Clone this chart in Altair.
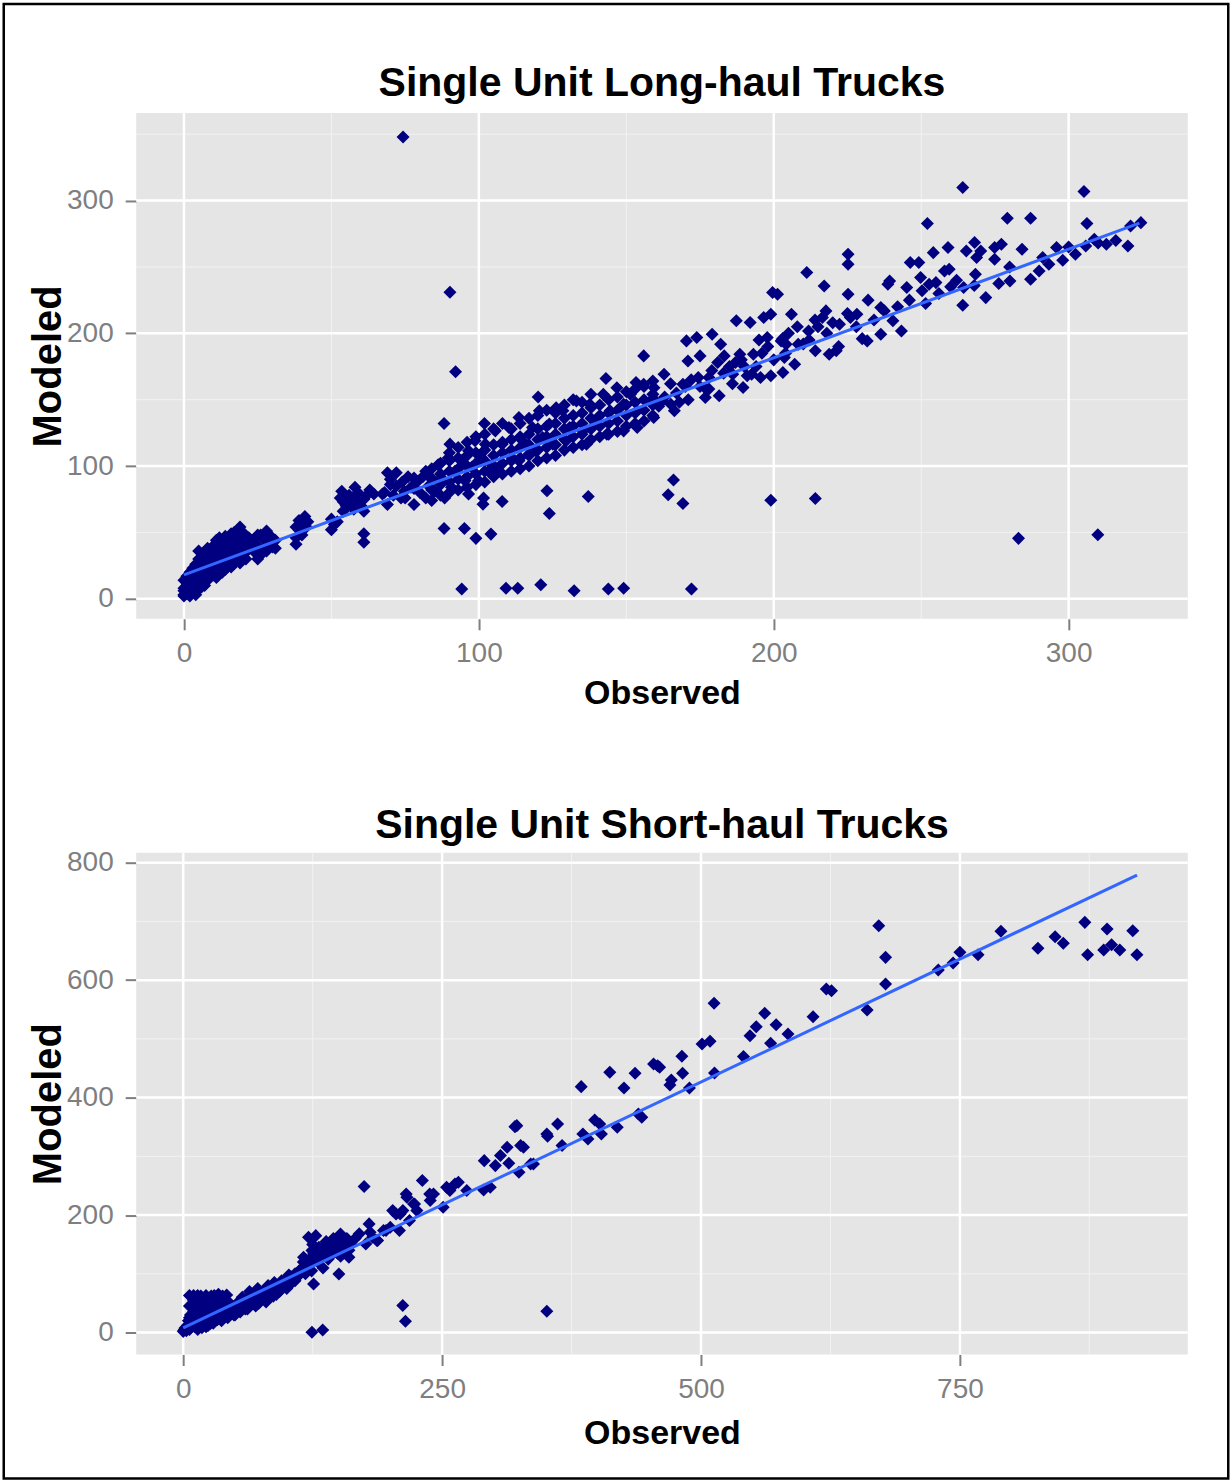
import altair as alt
import pandas as pd

# ---------------- data ----------------
# Top panel: Single Unit Long-haul Trucks (Observed, Modeled)
long_obs = [
    0, 0, 1, 1, 2, 2, 3, 3, 4, 4, 5, 5, 6, 6, 5, 8,
    7, 8, 9, 10, 10, 11, 12, 13, 13, 14, 15, 16, 16, 17, 18, 19, 19, 20, 20, 22, 21, 19, 16,
    24, 24, 25, 26, 27, 28, 29, 30, 25, 28, 31,
    38, 38, 39, 41, 41.5, 50, 50, 51,
    53.5, 54, 54, 58, 58, 61, 61, 57.6, 64.4, 61, 61,
    69, 72, 70, 69, 73.6, 78, 78, 78, 82, 82, 74.7, 67.3,
    74.3, 90.2, 92.1, 88.2, 101.9, 90.2, 120.1, 155.9, 143.1, 153.3,
    88.2, 95.1, 99, 104.1, 123.1, 123.9, 137.1, 101.4, 107.9,
    94.2, 109.2, 113.2, 121, 132.3, 143.9, 149.1,
    86.2, 87.3, 89.6, 90.7, 91.9, 94.2, 95.3, 96.5, 97.6, 98.7, 99.9, 101, 102.2, 103.3,
    88.4, 96.5, 101.6, 104.5, 83.9, 85,
    105.6, 107.9, 110.2, 111.3, 113.6, 114.8, 117, 118.2, 120.5, 121.6, 123.9, 125.1, 126.2,
    106.7, 113.6, 119.3,
    128.5, 130.8, 133.1, 135.3, 137.6, 139.9, 142.2, 144.5, 146.8, 149.1, 151.4, 153.7, 155.9,
    158.2, 129.6, 136.5, 143.4, 149.1, 153.7, 159.4,
    166, 164.2, 169.2, 199, 214.1, 283, 309.9, 172.1,
    264.1, 305.2, 252.1, 279.2, 287.1, 306.2, 324.5, 321, 320.1, 312.8, 308.7, 305.8, 302.3,
    295.9, 291.2, 293.3, 284.2, 287.1, 280.1, 276.3, 277.2, 274.9, 274.9, 268.1, 270.2, 268.8,
    268.4, 265.3, 259.1, 254.1, 271.9, 264.1, 264.4, 259.5, 257.9, 255, 251.5, 249.2, 246.3,
    245.1, 249.8, 250.3, 252.7, 238.7, 239.3, 237.5, 236.3, 240.4, 243.3, 236.3, 231.7, 228.2,
    225.2, 225.2, 225.2, 222.3, 218.8, 221.2, 217.1, 211.2, 216.5, 217.7, 214.1, 211.8, 207.1,
    208.3, 206, 204.2, 201.3, 199.6, 199, 196.6, 197.8, 202.5, 203.6, 203.1, 199, 195.5,
    192, 187.3, 193.1, 192.5, 189.6, 188.5, 186.1, 183.2, 182, 179.1, 173.9, 170.4, 170.9,
    175, 174.4, 178, 181.5, 176.8, 169.2, 162.8, 166.3, 159.3, 162.2, 165.1, 159.9,
    170, 185, 190, 178, 195, 205, 215, 225, 232, 242, 260, 280, 298, 310,
    # dense band, x 84-159
    84, 84, 84, 84, 87, 87, 87, 87, 90, 90, 90, 90, 90, 93, 93, 93, 93, 93,
    96, 96, 96, 96, 96, 99, 99, 99, 99, 99, 102, 102, 102, 102, 102,
    105, 105, 105, 105, 105, 108, 108, 108, 108, 108, 111, 111, 111, 111, 111,
    114, 114, 114, 114, 114, 117, 117, 117, 117, 117, 120, 120, 120, 120, 120,
    123, 123, 123, 123, 123, 126, 126, 126, 126, 126, 129, 129, 129, 129, 129,
    132, 132, 132, 132, 132, 135, 135, 135, 135, 135, 138, 138, 138, 138, 138,
    141, 141, 141, 141, 144, 144, 144, 144, 147, 147, 147, 147, 150, 150, 150, 150,
    153, 153, 153, 153, 156, 156, 156, 156, 159, 159, 159, 159,
    # lower-left blob, x 0-22
    0, 0, 0, 1, 1, 1, 2, 2, 2, 3, 3, 3, 4, 4, 4, 4, 5, 5, 5, 6, 6, 6, 7, 7, 7, 7,
    8, 8, 8, 9, 9, 9, 10, 10, 10, 11, 11, 11, 12, 12, 12, 13, 13, 14, 14, 14, 15, 15,
    16, 16, 17, 17, 17, 18, 18, 18, 19, 19, 20, 20, 20, 21, 21, 22, 22,
    # middle clusters
    24, 25, 26, 27, 28, 29, 30, 31, 38, 39, 40, 40, 42,
    52, 53, 55, 56, 57, 59, 60, 62, 63,
    68, 70, 71, 72, 74, 75, 76, 77, 79, 80, 81, 83,
    # upper band, x 160-316
    163, 167, 171, 175, 179, 183, 187, 191, 196, 200, 204, 208, 212, 218, 222, 228,
    234, 246, 256, 262, 268, 290, 300, 316,
    161, 165, 168, 172, 177, 181, 186, 189, 194, 198, 203, 210, 214, 220, 226, 230,
]
long_mod = [
    3, 6, 8, 12, 5, 15, 10, 18, 7, 20, 13, 25, 9, 30, 36, 34,
    16, 22, 28, 18, 35, 25, 30, 20, 40, 28, 35, 24, 44, 32, 38, 27, 48, 36, 42, 46, 30, 54, 49,
    35, 45, 40, 48, 37, 44, 42, 39, 30, 51, 44,
    41, 54, 59, 62, 54, 60, 52, 56,
    81, 73, 66, 84, 75, 75, 66, 67.5, 79, 49, 42.5,
    95, 95, 86, 71, 76, 91, 83, 71, 96, 76, 81, 79,
    348, 231, 171, 132, 132, 116.5, 152, 183, 166, 163,
    53, 53, 45.5, 48.7, 81.4, 64.3, 77.1, 71.3, 73.3,
    7.3, 8, 8, 10.6, 6.1, 7.3, 8,
    101, 91, 106, 84, 96, 104, 89, 111.5, 99, 119, 89, 106, 116.5, 96,
    76, 79, 76, 101, 91, 81,
    126.5, 116.5, 129, 106, 136.6, 119, 109, 129, 141.6, 121.5, 131.6, 116.5, 144,
    96, 104, 111.5,
    141.6, 129, 149, 126.5, 146.6, 134, 154, 141.6, 159, 146.6, 154, 141.6, 161.7,
    149, 119, 116.5, 124, 126.5, 129, 159,
    89.4, 78.3, 71.8, 74.3, 75.6, 45.5, 48.2, 7.3,
    309.8, 306.8, 282.7, 286.7, 286.7, 282.7, 283.4, 280.9, 265.8, 267.1, 270.9, 265.8, 259.6,
    264.6, 257.1, 252, 263.3, 240.7, 239.5, 237.5, 267.1, 264.6, 255.8, 268.4, 262.1, 257.1,
    244.5, 262.1, 264.6, 260.8, 226.9, 221.2, 234.5, 248.3, 247, 238.2, 222.4, 253.3, 253.3,
    234.5, 242, 232, 237, 237, 239.5, 216.9, 219.4, 209.4, 201.8, 199.3, 194.3, 214.4,
    259.6, 252, 229.5, 206.9, 184.3, 186.8, 235.7, 245.8, 211.9, 216.9, 186.8, 201.8, 176.7,
    191.8, 214.4, 191.8, 229.5, 230.7, 214.4, 211.9, 196.8, 194.3, 181.8, 170.5, 168, 166.7,
    208.1, 209.4, 184.3, 169.2, 159.2, 184.3, 169.2, 183, 191.8, 199.3, 196.8, 194.3, 179.2,
    183, 166.7, 166.7, 152.9, 151.6, 161.7, 169.2, 141.6, 136.6, 149.1, 146.6, 149.1,
    160, 175, 175, 158, 195, 200, 205, 215, 225, 220, 235, 250, 255, 268,
    # dense band, x 84-159
    74, 82, 90, 98, 78, 86, 94, 102, 80, 88, 96, 104, 110, 82, 90, 98, 106, 114,
    84, 92, 100, 108, 118, 86, 94, 102, 110, 122, 88, 96, 104, 112, 124,
    92, 100, 108, 116, 128, 94, 102, 110, 118, 132, 96, 104, 112, 120, 128,
    98, 106, 114, 122, 132, 100, 108, 116, 124, 136, 104, 112, 120, 128, 138,
    106, 114, 122, 130, 142, 108, 116, 124, 132, 140, 112, 120, 128, 136, 146,
    114, 122, 130, 138, 150, 116, 124, 132, 140, 148, 120, 128, 136, 144, 154,
    122, 130, 138, 146, 124, 132, 140, 150, 126, 134, 142, 152, 130, 138, 146, 156,
    132, 140, 148, 158, 134, 142, 150, 160, 138, 146, 154, 164,
    # lower-left blob, x 0-22
    2, 8, 14, 4, 10, 17, 2, 9, 20, 5, 13, 23, 3, 11, 16, 26, 7, 18, 30, 12, 22, 27, 10, 20, 26, 33,
    14, 28, 38, 18, 24, 32, 22, 30, 40, 16, 34, 44, 24, 36, 46, 28, 33, 22, 38, 47, 26, 42,
    30, 38, 27, 44, 50, 30, 42, 48, 34, 45, 32, 39, 50, 35, 44, 38, 41,
    # middle clusters
    40, 48, 33, 45, 36, 48, 45, 38, 46, 52, 57, 48, 58,
    58, 76, 70, 78, 72, 80, 70, 78, 82,
    80, 90, 78, 85, 88, 76, 92, 84, 88, 80, 92, 85,
    # upper band, x 160-316
    152, 155, 150, 160, 172, 170, 178, 168, 185, 180, 185, 205, 195, 200, 190, 205,
    210, 225, 230, 240, 236, 247, 265, 270,
    145, 162, 148, 165, 158, 178, 162, 180, 175, 190, 196, 192, 210, 208, 212, 196,
]

# Bottom panel: Single Unit Short-haul Trucks (Observed, Modeled)
short_obs = [
    0, 1, 2, 3, 4, 5, 6, 7, 8, 9, 10, 10, 11, 12, 13, 14, 15, 16, 17, 18, 19, 20, 21, 22, 23,
    24, 25, 26, 27, 28, 29, 30, 31, 32, 33, 34, 35, 36, 37, 38, 39, 40, 41, 42, 43, 45, 47, 49,
    50, 52, 55, 57, 58, 60, 62, 64, 66, 68, 70, 72, 74, 76, 78, 80, 82, 84, 86, 88, 90, 92, 95,
    98, 100, 102, 105, 108, 110, 112, 115, 118, 120, 122, 124, 125, 126, 128, 130, 132, 135,
    138, 140, 142, 145, 148, 150, 152, 155, 158, 160,
    151.9, 143.8, 137.3, 121, 124.3, 116.2, 130.8, 160, 150.3, 125.9,
    212, 214.6, 124.3, 134.7, 351.1,
    174.7, 179.5, 187.7, 195.8, 208.8, 182.8, 176.3, 180.5, 187, 193.4, 199.9, 209.5,
    215.3, 223.4, 212.1, 218.5, 205.5, 202.3, 216, 222.4, 225.6, 241.7, 238.5,
    254.3, 257.5, 262.4, 265.7, 273.8, 251, 230.9, 238, 290.1, 296.5,
    290.7, 301.4, 306.3, 312.8, 314.4, 325.8, 335.5, 324.2, 322.1, 328.6, 338.2, 351.1,
    320.3, 351.8, 361.5, 365.8, 385.9, 390.8, 397.3, 402.2, 403.8, 419.1, 439.5, 442.8,
    384.3, 411.9, 425.6, 436.3, 454.2,
    458.1, 460, 471.3, 470, 488.8, 481.5, 482.2, 501, 508.7, 513, 512.6, 541, 547.3, 553.3,
    567.2, 561.5, 572.5, 584, 608.2, 621, 626, 660.4, 678.2, 678.2, 671.6,
    729.1, 743.4, 750, 767.5, 789.6, 825.3, 841.9, 849.8, 870.6, 873.3, 892.1, 888.8, 896.4,
    904.4, 916.9, 920.9,
    # blob x 2-46
    6, 6, 6, 6, 10, 10, 10, 14, 14, 14, 14, 18, 18, 18, 22, 22, 22, 26, 26, 26,
    30, 30, 30, 34, 34, 34, 38, 38, 38, 42, 42, 42, 45, 46,
    # band x 50-170
    50, 53, 56, 60, 63, 66, 70, 73, 77, 80, 83, 87, 90, 93, 97, 100, 104, 108, 112, 116,
    119, 123, 127, 131, 134, 137, 141, 146, 149, 153, 156, 162, 166, 170,
]
short_mod = [
    2, 5, 8, 3, 12, 20, 6, 30, 15, 45, 25, 55, 10, 38, 60, 18, 48, 28, 62, 8, 40, 52, 20, 33, 58,
    12, 45, 26, 62, 38, 16, 50, 30, 60, 22, 42, 55, 34, 20, 48, 60, 30, 40, 52, 25, 35, 45, 30,
    40, 50, 35, 60, 45, 55, 40, 70, 50, 60, 45, 75, 55, 65, 70, 52, 80, 60, 72, 85, 65, 78, 88,
    80, 92, 98, 85, 100, 95, 105, 110, 100, 115, 125, 105, 150, 135, 165, 120, 140, 110,
    155, 125, 130, 160, 140, 145, 130, 150, 160, 140,
    167.9, 156.6, 139.6, 162.3, 139.6, 128.2, 133.9, 128.2, 99.8, 82.8,
    46, 19.3, 0.6, 4.5, 36.3,
    248.5, 185, 156.6, 173.6, 173.6, 162.3, 150.9, 170.8, 156.6, 173.6, 179.3, 202,
    236, 219, 207.6, 190.6, 202, 207.6, 230.4, 219, 207.6, 236, 224.7,
    247.3, 241.7, 253, 255.8, 241.7, 213.3, 258.7, 236, 242.8, 247.3,
    292.7, 284.2, 301.3, 315.4, 288.2, 318.3, 287.1, 273, 352.3, 315.5, 287.1, 338.2,
    350.6, 334.2, 355.2, 318.3, 338.1, 329.6, 362, 355.2, 338.1, 349.5, 372.2, 366.5,
    418.7, 443.1, 416.4, 441.4, 457.3,
    454.4, 451.6, 430, 421.5, 416.4, 470.4, 441.4, 491.3, 495.8, 442, 560.5, 469.8, 505.5, 520.8,
    492.5, 543.5, 524.2, 508.3, 537.8, 584.9, 582.1, 549.2, 593.5, 638.8, 692.7,
    617.3, 629.2, 647.4, 643.4, 683.1, 654.2, 674, 662.7, 698.4, 643.4, 687.1, 651.3, 660.4,
    651.3, 684.2, 643.4,
    # blob x 2-46
    5, 25, 45, 63, 15, 35, 63, 5, 28, 45, 63, 20, 40, 58, 10, 45, 63, 15, 40, 55,
    20, 35, 63, 30, 55, 65, 25, 38, 62, 30, 45, 64, 50, 40,
    # band x 50-170
    30, 45, 50, 40, 60, 55, 62, 50, 60, 75, 68, 62, 80, 70, 85, 75, 95, 88, 98, 120,
    108, 118, 128, 145, 130, 150, 140, 150, 135, 155, 142, 150, 160, 168,
]

# fitted (smooth) lines, end points
long_fit_obs = [0, 324]
long_fit_mod = [18, 283]
short_fit_obs = [0, 921]
short_fit_mod = [8, 779]

# axes
long_x_major = [0, 100, 200, 300]
long_x_minor = [50, 150, 250]
long_y_major = [0, 100, 200, 300]
long_y_minor = [50, 150, 250, 350]
long_x_domain = [-16.2, 340.4]
long_y_domain = [-15.1, 366]

short_x_major = [0, 250, 500, 750]
short_x_minor = [125, 375, 625, 875]
short_y_major = [0, 200, 400, 600, 800]
short_y_minor = [100, 300, 500, 700]
short_x_domain = [-45.4, 970]
short_y_domain = [-37.4, 817]

title_long = "Single Unit Long-haul Trucks"
title_short = "Single Unit Short-haul Trucks"
x_title = "Observed"
y_title = "Modeled"

# ---------------- styling ----------------
NARROW = "Liberation Sans Narrow, Arial Narrow, Liberation Sans, sans-serif"
BOLD = "Liberation Sans, Arial, sans-serif"
GREY = "#7F7F7F"


def make_axis(values, orient, x_title_pad=9):
    common = dict(
        values=values,
        grid=False,
        domain=False,
        ticks=True,
        tickSize=11,
        tickWidth=2,
        tickColor=GREY,
        labelFont=NARROW,
        labelFontSize=28,
        labelColor=GREY,
        labelFlush=False,
        labelOverlap=False,
        titleFont=BOLD,
        titleFontWeight="bold",
        titleColor="black",
    )
    if orient == "x":
        return alt.Axis(title=x_title, labelPadding=10, titleFontSize=34,
                        titlePadding=x_title_pad, **common)
    return alt.Axis(title=y_title, labelPadding=12, titleFontSize=40, titlePadding=-2, **common)


def panel(title, obs, mod, fit_obs, fit_mod, xdom, ydom, xmaj, xmin, ymaj, ymin, w, h,
          title_offset, x_title_pad, frame=False):
    xs = alt.Scale(domain=xdom, nice=False, zero=False)
    ys = alt.Scale(domain=ydom, nice=False, zero=False)
    xa = make_axis(xmaj, "x", x_title_pad)
    ya = make_axis(ymaj, "y")

    minor_v = alt.Chart(pd.DataFrame({"g": xmin})).mark_rule(color="#F2F2F2", strokeWidth=1).encode(
        x=alt.X("g:Q", scale=xs, axis=xa))
    minor_h = alt.Chart(pd.DataFrame({"g": ymin})).mark_rule(color="#F2F2F2", strokeWidth=1).encode(
        y=alt.Y("g:Q", scale=ys, axis=ya))
    major_v = alt.Chart(pd.DataFrame({"g": xmaj})).mark_rule(color="white", strokeWidth=2.5).encode(
        x=alt.X("g:Q", scale=xs, axis=xa))
    major_h = alt.Chart(pd.DataFrame({"g": ymaj})).mark_rule(color="white", strokeWidth=2.5).encode(
        y=alt.Y("g:Q", scale=ys, axis=ya))

    pts = alt.Chart(pd.DataFrame({"Observed": obs, "Modeled": mod})).mark_point(
        shape="diamond", filled=True, size=170, color="#000080", opacity=1, strokeWidth=0
    ).encode(
        x=alt.X("Observed:Q", scale=xs, axis=xa),
        y=alt.Y("Modeled:Q", scale=ys, axis=ya),
    )
    fit = alt.Chart(pd.DataFrame({"Observed": fit_obs, "Modeled": fit_mod})).mark_line(
        color="#3366FF", strokeWidth=3
    ).encode(
        x=alt.X("Observed:Q", scale=xs, axis=xa),
        y=alt.Y("Modeled:Q", scale=ys, axis=ya),
    )
    layers = [minor_v, minor_h, major_v, major_h, pts, fit]
    if frame:
        border = alt.Chart(pd.DataFrame({"f": [0]})).mark_rect(
            fillOpacity=0, stroke="black", strokeWidth=2.5
        ).encode(
            x=alt.value(-132.5), x2=alt.value(1092.5),
            y=alt.value(-109), y2=alt.value(1366),
        )
        layers.append(border)
    return alt.layer(*layers).properties(
        width=w, height=h,
        title=alt.Title(title, font=BOLD, fontSize=41, fontWeight="bold", color="black",
                        anchor="middle", offset=title_offset),
    )


top = panel(title_long, long_obs, long_mod, long_fit_obs, long_fit_mod,
            long_x_domain, long_y_domain, long_x_major, long_x_minor,
            long_y_major, long_y_minor, 1052, 506, -102, 9, frame=True)
bottom = panel(title_short, short_obs, short_mod, short_fit_obs, short_fit_mod,
               short_x_domain, short_y_domain, short_x_major, short_x_minor,
               short_y_major, short_y_minor, 1052, 502, 2, 13)

chart = alt.vconcat(top, bottom, spacing=234, bounds="flush").properties(
    padding={"left": 2.25, "top": 1.75, "right": 0.25, "bottom": 1.75},
    background="white",
).configure_view(fill="#E5E5E5", strokeWidth=0)

chart.save("out.html", embed_options={"renderer": "svg", "actions": False})
